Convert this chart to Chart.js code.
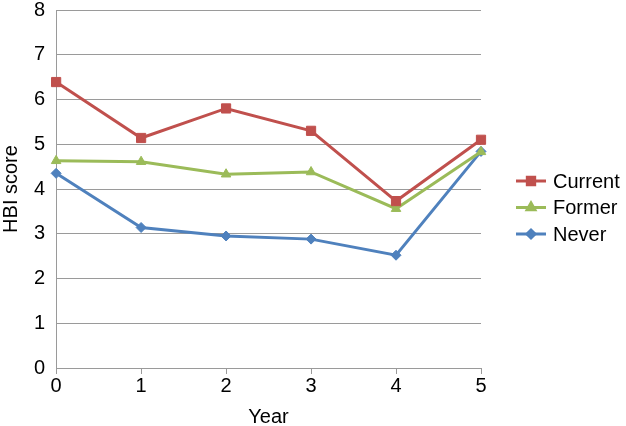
<!DOCTYPE html>
<html>
<head>
<meta charset="utf-8">
<script src="https://cdn.jsdelivr.net/npm/chart.js@4/dist/chart.umd.min.js"></script>
<style>
  body { margin: 0; background: #fff; }
  #wrap { width: 626px; height: 426px; }
</style>
</head>
<body>
<div id="wrap"><canvas id="hbi" width="626" height="426"></canvas></div>
<script>
const years = ['0', '1', '2', '3', '4', '5'];
const current = [6.39, 5.14, 5.80, 5.30, 3.73, 5.10];
const former = [4.63, 4.61, 4.33, 4.38, 3.56, 4.83];
const never = [4.35, 3.14, 2.95, 2.88, 2.52, 4.84];
const yTicks = [0, 1, 2, 3, 4, 5, 6, 7, 8];

const RED = '#C0504D', GREEN = '#9BBB59', BLUE = '#4F81BD';
const FONT = "'Liberation Sans', Arial, sans-serif";
const FS = 20;

function series(label, data, color, style, size) {
  return {
    label: label,
    data: data,
    borderColor: color,
    backgroundColor: color,
    borderWidth: 3,
    pointStyle: style,
    pointRadius: size,
    pointHoverRadius: size,
    pointBorderWidth: 1,
    tension: 0
  };
}

// Excel-like legend on the right: short line with the marker, then the name
const sideLegend = {
  id: 'sideLegend',
  afterDraw(chart) {
    const ctx = chart.ctx;
    const x0 = chart.chartArea.right + 35;
    const y0 = 181;
    ctx.save();
    chart.data.datasets.forEach(function(ds, i) {
      const y = y0 + i * 26.5;
      ctx.strokeStyle = ds.borderColor;
      ctx.lineWidth = 3;
      ctx.beginPath(); ctx.moveTo(x0, y); ctx.lineTo(x0 + 30, y); ctx.stroke();
      Chart.helpers.drawPoint(ctx, { pointStyle: ds.pointStyle, radius: ds.pointRadius * 0.8, borderWidth: 1 }, x0 + 15, y);
      ctx.fillStyle = ds.borderColor;
      ctx.fill();
      ctx.fillStyle = '#000';
      ctx.font = FS + 'px ' + FONT;
      ctx.textBaseline = 'middle';
      ctx.textAlign = 'left';
      ctx.fillText(ds.label, x0 + 37, y + 1);
    });
    ctx.restore();
  }
};

new Chart(document.getElementById('hbi'), {
  type: 'line',
  data: {
    labels: years,
    datasets: [
      series('Current', current, RED, 'rect', 6.5),
      series('Former', former, GREEN, 'triangle', 5.5),
      series('Never', never, BLUE, 'rectRot', 5)
    ]
  },
  plugins: [sideLegend],
  options: {
    responsive: false,
    animation: false,
    layout: { padding: { left: -1, right: 145, top: 10, bottom: -3 } },
    plugins: {
      tooltip: { enabled: false },
      legend: { display: false }
    },
    scales: {
      x: {
        type: 'category',
        offset: false,
        grid: { drawOnChartArea: false, drawTicks: true, tickLength: 6, color: '#9a9a9a' },
        border: { color: '#9a9a9a', width: 1 },
        ticks: { color: '#000', font: { family: FONT, size: FS }, padding: 0, maxRotation: 0 },
        title: { display: true, text: 'Year', color: '#000', font: { family: FONT, size: FS }, padding: { top: 7, bottom: 0 } }
      },
      y: {
        min: 0,
        max: 8,
        afterBuildTicks: function(axis) { axis.ticks = yTicks.map(v => ({ value: v })); },
        // top label may stick out above the plot, like the original
        afterFit: function(axis) { axis.paddingTop = 0; },
        grid: { drawTicks: false, color: '#9a9a9a' },
        border: { color: '#9a9a9a', width: 1 },
        ticks: { color: '#000', font: { family: FONT, size: FS }, padding: 11 },
        title: { display: true, text: 'HBI score', color: '#000', font: { family: FONT, size: FS }, padding: { top: 0, bottom: 0 } }
      }
    }
  }
});
</script>
</body>
</html>
